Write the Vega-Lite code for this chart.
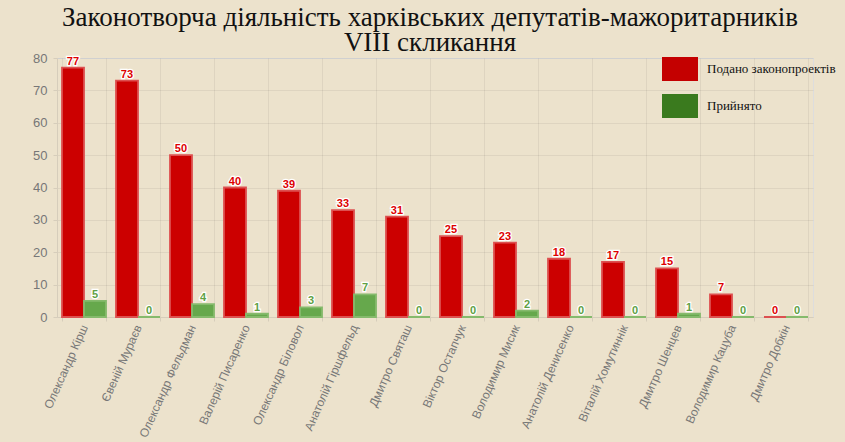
{
  "$schema": "https://vega.github.io/schema/vega-lite/v6.json",
  "autosize": "none",
  "width": 756,
  "height": 259,
  "padding": {"left": 57, "top": 58, "right": 32, "bottom": 125},
  "background": "#ece2cc",
  "title": {
    "text": ["Законотворча діяльність харківських депутатів-мажоритарників", "VIII скликання"],
    "font": "Liberation Serif",
    "fontSize": 27,
    "fontWeight": "normal",
    "color": "#111111",
    "lineHeight": 25,
    "offset": -6,
    "dx": -5
  },
  "data": {
    "values": [
      {"name": "Олександр Кірш", "series": "Подано законопроектів", "value": 77},
      {"name": "Олександр Кірш", "series": "Прийнято", "value": 5},
      {"name": "Євеній Мураєв", "series": "Подано законопроектів", "value": 73},
      {"name": "Євеній Мураєв", "series": "Прийнято", "value": 0},
      {"name": "Олександр Фельдман", "series": "Подано законопроектів", "value": 50},
      {"name": "Олександр Фельдман", "series": "Прийнято", "value": 4},
      {"name": "Валерій Писаренко", "series": "Подано законопроектів", "value": 40},
      {"name": "Валерій Писаренко", "series": "Прийнято", "value": 1},
      {"name": "Олександр Біловол", "series": "Подано законопроектів", "value": 39},
      {"name": "Олександр Біловол", "series": "Прийнято", "value": 3},
      {"name": "Анатолій Гіршфельд", "series": "Подано законопроектів", "value": 33},
      {"name": "Анатолій Гіршфельд", "series": "Прийнято", "value": 7},
      {"name": "Дмитро Святаш", "series": "Подано законопроектів", "value": 31},
      {"name": "Дмитро Святаш", "series": "Прийнято", "value": 0},
      {"name": "Віктор Остапчук", "series": "Подано законопроектів", "value": 25},
      {"name": "Віктор Остапчук", "series": "Прийнято", "value": 0},
      {"name": "Володимир Мисик", "series": "Подано законопроектів", "value": 23},
      {"name": "Володимир Мисик", "series": "Прийнято", "value": 2},
      {"name": "Анатолій Денисенко", "series": "Подано законопроектів", "value": 18},
      {"name": "Анатолій Денисенко", "series": "Прийнято", "value": 0},
      {"name": "Віталій Хомутиннік", "series": "Подано законопроектів", "value": 17},
      {"name": "Віталій Хомутиннік", "series": "Прийнято", "value": 0},
      {"name": "Дмитро Шенцев", "series": "Подано законопроектів", "value": 15},
      {"name": "Дмитро Шенцев", "series": "Прийнято", "value": 1},
      {"name": "Володимир Кацуба", "series": "Подано законопроектів", "value": 7},
      {"name": "Володимир Кацуба", "series": "Прийнято", "value": 0},
      {"name": "Дмитро Добкін", "series": "Подано законопроектів", "value": 0},
      {"name": "Дмитро Добкін", "series": "Прийнято", "value": 0}
    ]
  },
  "encoding": {
    "x": {
      "field": "name",
      "type": "nominal",
      "sort": null,
      "scale": {"paddingInner": 0.185, "paddingOuter": 0.0925},
      "axis": {
        "title": null,
        "labelAngle": -66,
        "labelFont": "Liberation Sans",
        "labelFontSize": 12,
        "labelColor": "#777777",
        "labelLimit": 300,
        "labelPadding": 4,
        "tickBand": "extent",
        "tickColor": "#d6cdbb",
        "tickSize": 4,
        "grid": true,
        "gridColor": "#000000",
        "gridOpacity": 0.06,
        "domainColor": "#d6cdbb"
      }
    },
    "xOffset": {"field": "series", "sort": ["Подано законопроектів", "Прийнято"]},
    "y": {
      "field": "value",
      "type": "quantitative",
      "scale": {"domain": [0, 80], "nice": false},
      "axis": {
        "title": null,
        "values": [0, 10, 20, 30, 40, 50, 60, 70, 80],
        "labelFont": "Liberation Sans",
        "labelFontSize": 13,
        "labelColor": "#777777",
        "labelPadding": 6,
        "tickColor": "#d6cdbb",
        "tickSize": 4,
        "gridColor": "#000000",
        "gridOpacity": 0.06,
        "domainColor": "#d6cdbb"
      }
    }
  },
  "layer": [
    {
      "mark": {"type": "bar", "strokeWidth": 1.8},
      "encoding": {
        "color": {
          "field": "series",
          "type": "nominal",
          "sort": ["Подано законопроектів", "Прийнято"],
          "scale": {"range": ["#cc0000", "#66a84c"]},
          "legend": null
        },
        "stroke": {
          "field": "series",
          "type": "nominal",
          "sort": ["Подано законопроектів", "Прийнято"],
          "scale": {"range": ["#dd5050", "#85ba6c"]},
          "legend": null
        }
      }
    },
    {
      "transform": [{"filter": "false"}],
      "mark": {"type": "bar"},
      "encoding": {
        "color": {
          "field": "series",
          "type": "nominal",
          "scale": {"domain": ["Подано законопроектів", "Прийнято"], "range": ["#c40000", "#3a7a1e"]},
          "legend": {
            "title": null,
            "orient": "none",
            "legendX": 605,
            "legendY": -7,
            "padding": 0,
            "symbolType": "M-1,-0.6667H1V0.6667H-1Z",
            "symbolSize": 1296,
            "symbolStrokeWidth": 0,
            "symbolOpacity": 1,
            "rowPadding": 6,
            "labelOffset": 9,
            "labelFont": "Liberation Serif",
            "labelFontSize": 13,
            "labelColor": "#111111",
            "labelLimit": 300
          }
        }
      }
    },
    {
      "mark": {
        "type": "text",
        "baseline": "alphabetic",
        "dy": -3,
        "font": "Liberation Sans",
        "fontSize": 11,
        "fontWeight": "bold",
        "fill": "#ffffff",
        "stroke": "#ffffff",
        "strokeWidth": 2.5
      },
      "encoding": {"text": {"field": "value", "type": "quantitative"}}
    },
    {
      "mark": {
        "type": "text",
        "baseline": "alphabetic",
        "dy": -3,
        "font": "Liberation Sans",
        "fontSize": 11,
        "fontWeight": "bold"
      },
      "encoding": {
        "text": {"field": "value", "type": "quantitative"},
        "color": {
          "field": "series",
          "type": "nominal",
          "sort": ["Подано законопроектів", "Прийнято"],
          "scale": {"range": ["#dd0000", "#5fa044"]},
          "legend": null
        }
      }
    }
  ],
  "resolve": {"scale": {"color": "independent", "stroke": "independent"}, "legend": {"color": "independent"}}
}
